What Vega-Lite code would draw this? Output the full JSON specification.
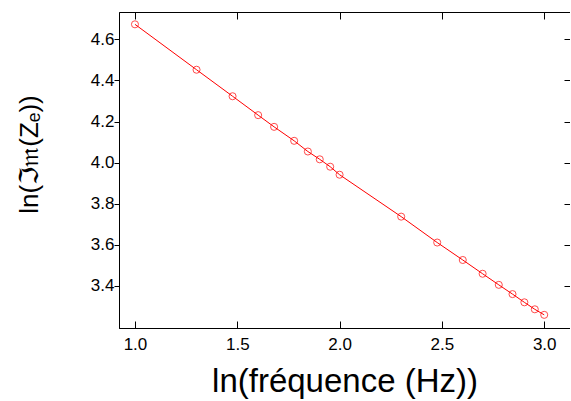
{
  "$schema": "https://vega.github.io/schema/vega-lite/v6.json",
  "width": 451,
  "height": 316,
  "autosize": {"type": "none"},
  "padding": {"left": 119, "top": 12, "right": 0, "bottom": 73},
  "background": "white",
  "config": {
    "view": {"stroke": "#000000", "strokeWidth": 1},
    "font": "Liberation Sans",
    "axis": {
      "domainColor": "#000000",
      "domainWidth": 1,
      "tickColor": "#000000",
      "tickWidth": 1,
      "labelColor": "#000000",
      "labelFont": "Liberation Sans",
      "labelFontSize": 17,
      "titleColor": "#000000",
      "titleFont": "Liberation Sans",
      "titleFontWeight": "normal",
      "grid": false
    }
  },
  "data": {
    "values": [
      {"lnf": 1.0, "lnz": 4.673},
      {"lnf": 1.301, "lnz": 4.452},
      {"lnf": 1.477, "lnz": 4.323},
      {"lnf": 1.602, "lnz": 4.231},
      {"lnf": 1.68, "lnz": 4.174},
      {"lnf": 1.778, "lnz": 4.106},
      {"lnf": 1.845, "lnz": 4.054},
      {"lnf": 1.903, "lnz": 4.016},
      {"lnf": 1.954, "lnz": 3.98},
      {"lnf": 2.0, "lnz": 3.941},
      {"lnf": 2.301, "lnz": 3.737},
      {"lnf": 2.477, "lnz": 3.611},
      {"lnf": 2.602, "lnz": 3.526},
      {"lnf": 2.699, "lnz": 3.459},
      {"lnf": 2.778, "lnz": 3.405},
      {"lnf": 2.845, "lnz": 3.36},
      {"lnf": 2.903, "lnz": 3.32},
      {"lnf": 2.954, "lnz": 3.286},
      {"lnf": 3.0, "lnz": 3.259}
    ]
  },
  "layer": [
    {
      "mark": {"type": "line", "color": "#ff0000", "strokeWidth": 1},
      "encoding": {
        "x": {
          "field": "lnf", "type": "quantitative",
          "scale": {"domain": [0.922, 3.126], "nice": false, "zero": false},
          "axis": {
            "orient": "bottom",
            "values": [1, 1.5, 2, 2.5, 3],
            "format": ".1f",
            "tickSize": -7,
            "labelPadding": 28,
            "labelBaseline": "alphabetic",
            "title": "ln(fréquence (Hz))",
            "titleFontSize": 33,
            "titleBaseline": "alphabetic",
            "titleY": 63
          }
        },
        "y": {
          "field": "lnz", "type": "quantitative",
          "scale": {"domain": [3.195, 4.733], "nice": false, "zero": false},
          "axis": {
            "orient": "left",
            "values": [3.4, 3.6, 3.8, 4.0, 4.2, 4.4, 4.6],
            "format": ".1f",
            "tickSize": 5,
            "labelPadding": 0,
            "labelBaseline": "middle",
            "title": "ln(ℑ𝔪(Zₑ))",
            "titleFont": "Liberation Sans, DejaVu Sans",
            "titleFontSize": 26,
            "titleAngle": -90,
            "titleAlign": "center",
            "titleBaseline": "alphabetic",
            "titleX": -82,
            "titleY": 142
          }
        }
      }
    },
    {
      "mark": {"type": "point", "shape": "circle", "filled": false, "color": "#ff0000", "size": 50, "strokeWidth": 1},
      "encoding": {
        "x": {
          "field": "lnf", "type": "quantitative",
          "scale": {"domain": [0.922, 3.126], "nice": false, "zero": false},
          "axis": {
            "orient": "top",
            "values": [1, 1.5, 2, 2.5, 3],
            "domain": false,
            "ticks": true,
            "tickSize": 7,
            "offset": -7,
            "labels": false,
            "title": null
          }
        },
        "y": {
          "field": "lnz", "type": "quantitative",
          "scale": {"domain": [3.195, 4.733], "nice": false, "zero": false},
          "axis": {
            "orient": "right",
            "values": [3.4, 3.6, 3.8, 4.0, 4.2, 4.4, 4.6],
            "domain": false,
            "ticks": true,
            "tickSize": 6,
            "offset": -6,
            "labels": false,
            "title": null
          }
        }
      }
    }
  ],
  "resolve": {
    "scale": {"x": "independent", "y": "independent"},
    "axis": {"x": "independent", "y": "independent"}
  }
}
